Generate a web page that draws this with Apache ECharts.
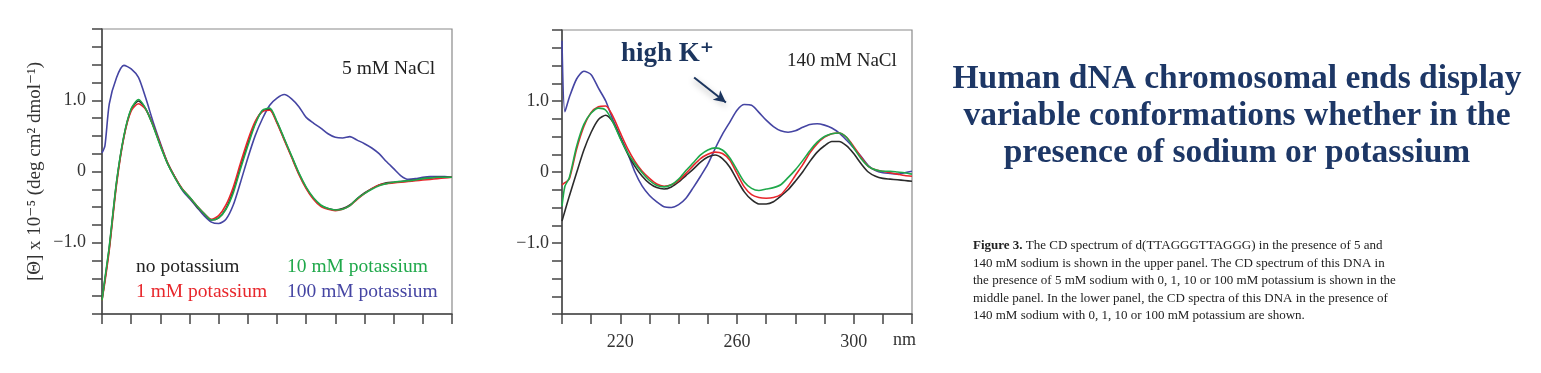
<!DOCTYPE html>
<html>
<head>
<meta charset="utf-8">
<script src="https://cdn.jsdelivr.net/npm/echarts@6/dist/echarts.min.js"></script>
<style>
html,body{margin:0;padding:0;background:#fff;}
#c{width:1541px;height:373px;}
</style>
</head>
<body>
<div id="c"></div>
<script>
// ---- data (wavelength in nm, ellipticity [Θ] x 10^-5) ----
const wavelengths = [200,201,202.5,205,207.5,210,212.5,215,217.5,220,222.5,225,227.5,230,232.5,235,237.5,240,242.5,245,247.5,250,252.5,255,257.5,260,262.5,265,267.5,270,272.5,275,277.5,280,282.5,285,287.5,290,292.5,295,297.5,300,302.5,305,307.5,310,312.5,315,317.5,320];

// 5 mM NaCl panel
const naCl5_noK = [-1.80,-1.52,-1.07,-0.15,0.49,0.87,0.99,0.88,0.65,0.37,0.11,-0.08,-0.25,-0.36,-0.49,-0.59,-0.68,-0.65,-0.52,-0.27,0.07,0.39,0.68,0.85,0.87,0.69,0.45,0.21,-0.03,-0.23,-0.38,-0.48,-0.52,-0.54,-0.52,-0.47,-0.38,-0.30,-0.24,-0.19,-0.16,-0.15,-0.14,-0.13,-0.12,-0.10,-0.09,-0.08,-0.08,-0.08];
const naCl5_1mMK = [-1.81,-1.55,-1.10,-0.18,0.48,0.85,0.95,0.87,0.65,0.38,0.12,-0.08,-0.24,-0.36,-0.48,-0.59,-0.67,-0.62,-0.47,-0.22,0.12,0.44,0.70,0.84,0.86,0.68,0.44,0.20,-0.04,-0.24,-0.39,-0.49,-0.53,-0.55,-0.53,-0.48,-0.39,-0.31,-0.24,-0.19,-0.17,-0.16,-0.15,-0.14,-0.13,-0.12,-0.11,-0.10,-0.09,-0.08];
const naCl5_10mMK = [-1.81,-1.50,-1.05,-0.14,0.50,0.88,1.01,0.88,0.64,0.36,0.11,-0.09,-0.25,-0.36,-0.48,-0.59,-0.68,-0.65,-0.53,-0.30,0.04,0.36,0.66,0.86,0.89,0.70,0.46,0.22,-0.02,-0.22,-0.37,-0.47,-0.52,-0.54,-0.53,-0.48,-0.38,-0.31,-0.25,-0.20,-0.17,-0.15,-0.14,-0.13,-0.12,-0.10,-0.09,-0.08,-0.08,-0.08];
const naCl5_100mMK = [0.26,0.36,0.95,1.32,1.49,1.44,1.32,1.03,0.70,0.40,0.12,-0.08,-0.26,-0.38,-0.50,-0.62,-0.71,-0.73,-0.67,-0.47,-0.15,0.19,0.50,0.74,0.93,1.03,1.08,1.02,0.91,0.76,0.68,0.61,0.53,0.48,0.47,0.49,0.44,0.39,0.33,0.25,0.14,0.04,-0.06,-0.11,-0.10,-0.08,-0.07,-0.07,-0.07,-0.08];

// 140 mM NaCl panel
const naCl140_noK = [-0.69,-0.55,-0.34,-0.01,0.31,0.56,0.74,0.80,0.70,0.48,0.26,0.08,-0.06,-0.16,-0.22,-0.24,-0.21,-0.14,-0.05,0.04,0.14,0.21,0.24,0.19,0.07,-0.11,-0.28,-0.39,-0.45,-0.45,-0.42,-0.34,-0.25,-0.13,0.00,0.15,0.28,0.37,0.43,0.43,0.37,0.26,0.12,0.00,-0.06,-0.09,-0.10,-0.11,-0.12,-0.13];
const naCl140_1mMK = [-0.18,-0.15,-0.10,0.32,0.64,0.84,0.92,0.93,0.78,0.55,0.33,0.15,0.01,-0.09,-0.17,-0.20,-0.18,-0.12,-0.02,0.09,0.19,0.25,0.28,0.26,0.17,-0.02,-0.21,-0.32,-0.36,-0.37,-0.36,-0.32,-0.20,-0.05,0.10,0.27,0.40,0.49,0.54,0.55,0.49,0.36,0.21,0.08,0.03,0.01,-0.01,-0.03,-0.05,-0.06];
const naCl140_10mMK = [-0.48,-0.20,-0.08,0.36,0.67,0.83,0.90,0.87,0.70,0.47,0.27,0.12,-0.01,-0.12,-0.19,-0.21,-0.18,-0.10,0.02,0.13,0.24,0.31,0.34,0.31,0.20,0.03,-0.14,-0.23,-0.26,-0.24,-0.22,-0.18,-0.08,0.03,0.16,0.30,0.42,0.50,0.54,0.55,0.49,0.34,0.19,0.08,0.03,0.01,0.01,0.00,-0.01,-0.03];
const naCl140_100mMK = [1.85,0.85,1.05,1.31,1.42,1.37,1.18,1.00,0.73,0.50,0.27,0.00,-0.20,-0.33,-0.42,-0.49,-0.50,-0.46,-0.37,-0.22,-0.06,0.11,0.33,0.53,0.70,0.87,0.95,0.94,0.84,0.73,0.64,0.58,0.56,0.58,0.63,0.67,0.68,0.66,0.62,0.55,0.45,0.34,0.22,0.09,0.02,-0.01,-0.02,-0.03,-0.01,0.01];

// axis ticks / labels
const yTickLabels = {"1": "1.0", "0": "0", "-1": "\u22121.0"};
const xTickLabels = [220, 260, 300];

// arrow annotation (data coordinates, 140 mM panel)
const arrowFrom = [245.3, 1.33];
const arrowTo = [256.2, 0.98];

// ---- chart ----
const COLORS = {noK: '#2b2b2b', k1: '#e8262b', k10: '#1fa84a', k100: '#4545a3'};
const SERIF = "'Liberation Serif', 'DejaVu Serif', serif";
const pairs = arr => wavelengths.map((w, i) => [w, arr[i]]);

function yAxis(gi, margin) {
  return {
    type: 'value', gridIndex: gi, min: -2, max: 2, interval: 0.25,
    axisLine: {show: true, lineStyle: {color: '#444', width: 1.5}},
    axisTick: {show: true, inside: false, length: 10, lineStyle: {color: '#444', width: 1.5}},
    splitLine: {show: false},
    axisLabel: {
      margin: margin, color: '#333', fontFamily: SERIF, fontSize: 18,
      formatter: v => { const k = String(Math.round(v * 100) / 100); return yTickLabels[k] !== undefined ? yTickLabels[k] : ''; }
    }
  };
}
function xAxis(gi, showLabels) {
  return {
    type: 'value', gridIndex: gi, min: 200, max: 320, interval: 10,
    axisLine: {show: true, onZero: false, lineStyle: {color: '#444', width: 1.5}},
    axisTick: {show: true, inside: false, length: 10, lineStyle: {color: '#444', width: 1.5}},
    splitLine: {show: false},
    axisLabel: {
      show: showLabels, margin: 19, color: '#333', fontFamily: SERIF, fontSize: 18,
      formatter: v => xTickLabels.indexOf(v) >= 0 ? String(v) : ''
    }
  };
}
function line(gi, arr, color, extra) {
  return Object.assign({
    type: 'line', xAxisIndex: gi, yAxisIndex: gi, data: pairs(arr),
    showSymbol: false, smooth: 0.25, animation: false,
    lineStyle: {color: color, width: 1.6}, itemStyle: {color: color}
  }, extra || {});
}

const chart = echarts.init(document.getElementById('c'), null, {renderer: 'canvas'});
chart.setOption({
  backgroundColor: '#ffffff',
  animation: false,
  grid: [
    {left: 102, top: 29, width: 350, height: 285, show: true, borderColor: '#8a8a8a', borderWidth: 1.2, backgroundColor: 'transparent'},
    {left: 562, top: 30, width: 350, height: 284, show: true, borderColor: '#8a8a8a', borderWidth: 1.2, backgroundColor: 'transparent'}
  ],
  xAxis: [xAxis(0, false), xAxis(1, true)],
  yAxis: [
    Object.assign(yAxis(0, 16), {
      name: '[\u0398] x 10\u207B\u2075 (deg cm\u00B2 dmol\u207B\u00B9)', nameLocation: 'middle', nameGap: 57, nameRotate: 90,
      nameTextStyle: {fontFamily: SERIF, fontSize: 19, color: '#333'}
    }),
    yAxis(1, 13)
  ],
  series: [
    line(0, naCl5_100mMK, COLORS.k100),
    line(0, naCl5_noK, COLORS.noK),
    line(0, naCl5_1mMK, COLORS.k1),
    line(0, naCl5_10mMK, COLORS.k10),
    line(1, naCl140_100mMK, COLORS.k100, {
      markLine: {
        silent: true, symbol: ['none', 'arrow'], symbolSize: [9, 12], label: {show: false},
        lineStyle: {color: '#1c355e', width: 2, type: 'solid', shadowColor: 'rgba(0,0,0,0.35)', shadowBlur: 6, shadowOffsetY: 3},
        data: [[{coord: arrowFrom}, {coord: arrowTo}]]
      }
    }),
    line(1, naCl140_noK, COLORS.noK),
    line(1, naCl140_1mMK, COLORS.k1),
    line(1, naCl140_10mMK, COLORS.k10)
  ],
  graphic: [
    {type: 'text', left: 342, top: 59, style: {text: '5 mM NaCl', font: "19.5px " + SERIF, fill: '#222'}},
    {type: 'text', left: 787, top: 52, style: {text: '140 mM NaCl', font: "19px " + SERIF, fill: '#222'}},
    {type: 'text', left: 136, top: 257, style: {text: 'no potassium', font: "19.5px " + SERIF, fill: '#222'}},
    {type: 'text', left: 136, top: 282, style: {text: '1 mM potassium', font: "19.5px " + SERIF, fill: COLORS.k1}},
    {type: 'text', left: 287, top: 257, style: {text: '10 mM potassium', font: "19.5px " + SERIF, fill: COLORS.k10}},
    {type: 'text', left: 287, top: 282, style: {text: '100 mM potassium', font: "19.5px " + SERIF, fill: COLORS.k100}},
    {type: 'text', left: 621, top: 41, style: {text: 'high K\u207A', font: "bold 27px " + SERIF, fill: '#1c355e'}},
    {type: 'text', left: 893, top: 331, style: {text: 'nm', font: "18px " + SERIF, fill: '#333'}},
    {type: 'text', x: 1237, y: 116, style: {
      text: 'Human dNA chromosomal ends display\nvariable conformations whether in the\npresence of sodium or potassium',
      font: "bold 33.5px " + SERIF, fill: '#1d3766', textAlign: 'center', textVerticalAlign: 'middle', lineHeight: 37
    }},
    {type: 'text', left: 973, top: 239, style: {
      rich: {
        b: {fontFamily: SERIF, fontSize: 13, fontWeight: 'bold', fill: '#222', lineHeight: 17.6},
        n: {fontFamily: SERIF, fontSize: 13, fill: '#222', lineHeight: 17.6}
      },
      text: '{b|Figure 3.}{n| The CD spectrum of d(TTAGGGTTAGGG) in the presence of 5 and}\n' +
            '{n|140 mM sodium is shown in the upper panel. The CD spectrum of this DNA in}\n' +
            '{n|the presence of 5 mM sodium with 0, 1, 10 or 100 mM potassium is shown in the}\n' +
            '{n|middle panel. In the lower panel, the CD spectra of this DNA in the presence of}\n' +
            '{n|140 mM sodium with 0, 1, 10 or 100 mM potassium are shown.}'
    }}
  ]
});
</script>
</body>
</html>
